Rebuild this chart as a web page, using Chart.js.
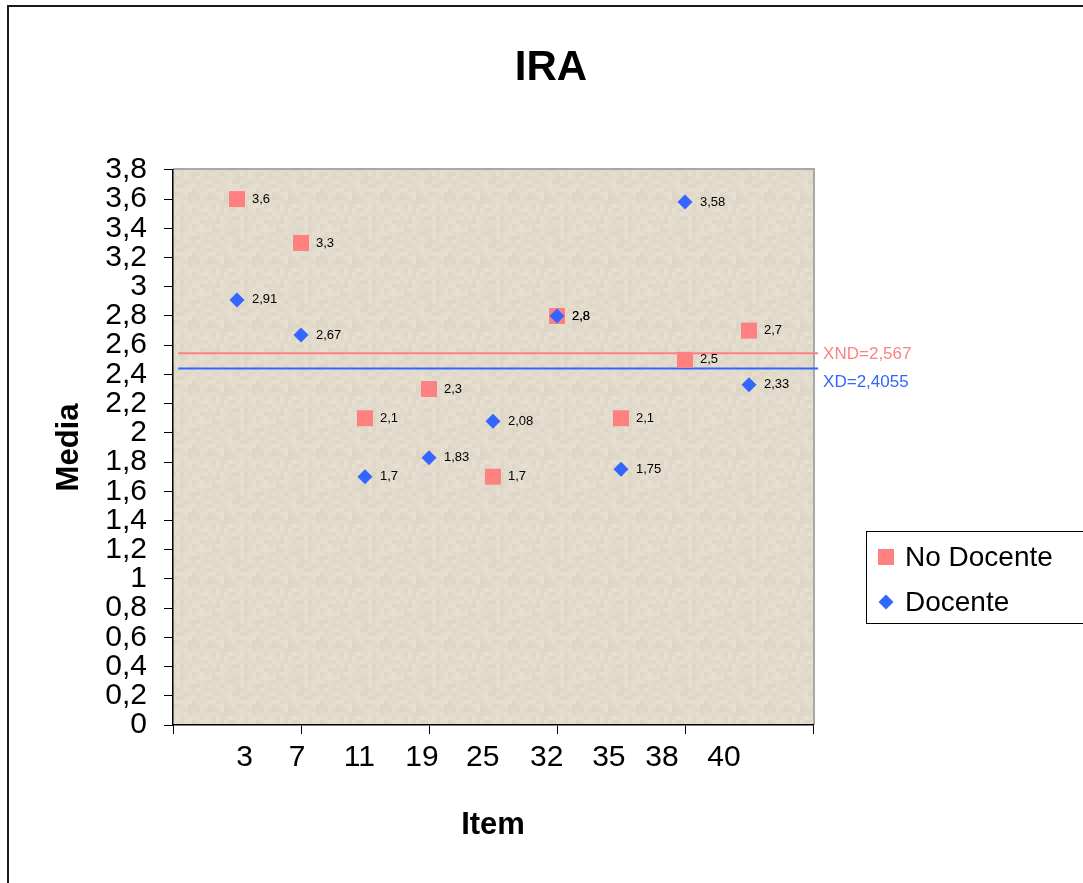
<!DOCTYPE html>
<html>
<head>
<meta charset="utf-8">
<script src="https://cdn.jsdelivr.net/npm/chart.js@4.4.1/dist/chart.umd.min.js"></script>
<style>
  html, body { margin: 0; padding: 0; background: #ffffff; }
  #wrap { width: 1083px; height: 883px; position: relative; }
</style>
</head>
<body>
<div id="wrap"><canvas id="c" width="1083" height="883"></canvas></div>
<script>
// ---- data ----
const itemPositions = [1, 2, 3, 4, 5, 6, 7, 8, 9];
const itemLabels = ['3', '7', '11', '19', '25', '32', '35', '38', '40'];
const itemLabelPos = [1.12, 1.94, 2.91, 3.89, 4.84, 5.84, 6.81, 7.64, 8.61];
const noDocente = [3.6, 3.3, 2.1, 2.3, 1.7, 2.8, 2.1, 2.5, 2.7];
const docente = [2.91, 2.67, 1.7, 1.83, 2.08, 2.8, 1.75, 3.58, 2.33];
const meanNames = ['XND=2,567', 'XD=2,4055'];
const meanLevels = [2.545, 2.44];
const meanSpan = [0.08, 10.08];
const xMarkTicks = [0, 2, 4, 6, 8, 10];

const FONT = "'Liberation Sans', Arial, sans-serif";
const PINK = '#FF8080';
const BLUE = '#3366FF';

function fmt(v) { return String(Math.round(v * 100) / 100).replace('.', ','); }

// textured background tile
function makeTexture(ctx) {
  const t = document.createElement('canvas');
  t.width = 64; t.height = 64;
  const g = t.getContext('2d');
  for (let i = 0; i < 16; i++) {
    for (let j = 0; j < 16; j++) {
      const h = (((i * 73856093) ^ (j * 19349663)) >>> 0) % 11;
      const v = h - 5;
      g.fillStyle = 'rgb(' + (226 + v) + ',' + (218 + v) + ',' + (203 + v) + ')';
      g.fillRect(i * 4, j * 4, 4, 4);
    }
  }
  return ctx.createPattern(t, 'repeat');
}

const bgPlugin = {
  id: 'bgPlugin',
  beforeDraw(chart) {
    const {ctx, chartArea: a} = chart;
    ctx.save();
    ctx.fillStyle = '#fff';
    ctx.fillRect(0, 0, chart.width, chart.height);
    ctx.strokeStyle = '#1a1a1a';
    ctx.lineWidth = 2;
    ctx.strokeRect(8, 6, chart.width + 20, chart.height + 20);
    ctx.fillStyle = makeTexture(ctx);
    ctx.fillRect(a.left, a.top, a.right - a.left, a.bottom - a.top);
    ctx.strokeStyle = '#a8a8a8';
    ctx.lineWidth = 2;
    ctx.beginPath();
    ctx.moveTo(a.left, a.top - 1);
    ctx.lineTo(a.right + 1, a.top - 1);
    ctx.lineTo(a.right + 1, a.bottom);
    ctx.stroke();
    ctx.restore();
  }
};

const labelPlugin = {
  id: 'labelPlugin',
  afterDatasetsDraw(chart) {
    const {ctx} = chart;
    ctx.save();
    ctx.textBaseline = 'middle';
    ctx.textAlign = 'left';
    chart.data.datasets.forEach((ds, di) => {
      const meta = chart.getDatasetMeta(di);
      if (ds.isMean) {
        const last = meta.data[meta.data.length - 1];
        ctx.font = '17px ' + FONT;
        ctx.fillStyle = ds.borderColor;
        ctx.fillText(ds.label, last.x + 5, last.y + ds.labelShift);
      } else {
        ctx.font = '13px ' + FONT;
        ctx.fillStyle = '#000';
        meta.data.forEach((el, i) => {
          ctx.fillText(fmt(ds.data[i].y), el.x + 15, el.y);
        });
      }
    });
    ctx.restore();
  }
};

const legendPlugin = {
  id: 'legendPlugin',
  afterDraw(chart) {
    const {ctx} = chart;
    ctx.save();
    ctx.strokeStyle = '#000';
    ctx.lineWidth = 1;
    ctx.strokeRect(866.5, 531.5, 240, 92);
    const entries = chart.data.datasets.filter(d => !d.isMean)
      .sort((a, b) => a.legendOrder - b.legendOrder);
    entries.forEach((ds, i) => {
      const cy = 557 + i * 45;
      const cx = 886;
      ctx.fillStyle = ds.backgroundColor;
      ctx.beginPath();
      if (ds.pointStyle === 'rect') {
        ctx.rect(cx - 8, cy - 8, 16, 16);
      } else {
        ctx.moveTo(cx - 7.5, cy); ctx.lineTo(cx, cy - 7.5);
        ctx.lineTo(cx + 7.5, cy); ctx.lineTo(cx, cy + 7.5);
        ctx.closePath();
      }
      ctx.fill();
      ctx.fillStyle = '#000';
      ctx.font = '28px ' + FONT;
      ctx.textBaseline = 'middle';
      ctx.textAlign = 'left';
      ctx.fillText(ds.label, 905, cy + 1);
    });
    ctx.restore();
  }
};

const datasets = [
  {
    label: 'No Docente', legendOrder: 0,
    data: itemPositions.map((x, i) => ({x: x, y: noDocente[i]})),
    pointStyle: 'rect', pointRadius: 11.3, pointHoverRadius: 11.3,
    backgroundColor: PINK, borderColor: PINK, borderWidth: 0, order: 1
  },
  {
    label: 'Docente', legendOrder: 1,
    data: itemPositions.map((x, i) => ({x: x, y: docente[i]})),
    pointStyle: 'rectRot', pointRadius: 7.5, pointHoverRadius: 7.5,
    backgroundColor: BLUE, borderColor: BLUE, borderWidth: 0, order: 0
  },
  {
    type: 'line', label: meanNames[0], isMean: true, labelShift: 1,
    data: meanSpan.map(x => ({x: x, y: meanLevels[0]})),
    borderColor: PINK, borderWidth: 2, pointRadius: 0, clip: false, order: 2
  },
  {
    type: 'line', label: meanNames[1], isMean: true, labelShift: 14,
    data: meanSpan.map(x => ({x: x, y: meanLevels[1]})),
    borderColor: BLUE, borderWidth: 2, pointRadius: 0, clip: false, order: 2
  }
];

new Chart(document.getElementById('c'), {
  type: 'scatter',
  data: { datasets: datasets },
  options: {
    responsive: false,
    animation: false,
    events: [],
    layout: { padding: { left: 19, right: 0, top: 0, bottom: 0 } },
    plugins: {
      legend: { display: false },
      tooltip: { enabled: false },
      title: {
        display: true, text: 'IRA', color: '#000',
        font: { family: FONT, size: 42, weight: 'bold' },
        padding: { top: 43, bottom: 76.5 }
      }
    },
    scales: {
      x: {
        type: 'linear', position: 'bottom', min: 0, max: 10,
        afterBuildTicks(scale) {
          const vals = xMarkTicks.concat(itemLabelPos).sort((a, b) => a - b);
          scale.ticks = vals.map(v => ({value: v}));
        },
        afterFit(scale) { scale.height = 158; },
        ticks: {
          autoSkip: false, maxRotation: 0, minRotation: 0, padding: 6,
          color: '#000', font: { family: FONT, size: 30 },
          callback(value) {
            const i = itemLabelPos.indexOf(value);
            return i >= 0 ? itemLabels[i] : '';
          }
        },
        grid: {
          drawOnChartArea: false, drawTicks: true, tickLength: 9, tickWidth: 1,
          tickColor(ctx) {
            return (ctx.tick && xMarkTicks.indexOf(ctx.tick.value) >= 0) ? '#000' : 'rgba(0,0,0,0)';
          }
        },
        border: { display: true, color: '#000', width: 1.5 },
        title: {
          display: true, text: 'Item', color: '#000',
          font: { family: FONT, size: 31, weight: 'bold' },
          padding: { top: 0, bottom: 39 }
        }
      },
      y: {
        type: 'linear', position: 'left', min: 0, max: 3.8,
        afterFit(scale) { scale.width = 154; },
        ticks: {
          stepSize: 0.2, autoSkip: false, padding: 17,
          color: '#000', font: { family: FONT, size: 30 },
          callback(value) { return String(Math.round(value * 10) / 10).replace('.', ','); }
        },
        grid: { drawOnChartArea: false, drawTicks: true, tickLength: 9, tickColor: '#000' },
        border: { display: true, color: '#000', width: 1.5 },
        title: {
          display: true, text: 'Media', color: '#000',
          font: { family: FONT, size: 31, weight: 'bold' },
          padding: { top: 32, bottom: 0 }
        }
      },
      yR: {
        type: 'linear', position: 'right', display: true,
        afterFit(scale) { scale.width = 270; },
        ticks: { display: false },
        grid: { display: false, drawTicks: false },
        border: { display: false }
      }
    }
  },
  plugins: [bgPlugin, labelPlugin, legendPlugin]
});
</script>
</body>
</html>
